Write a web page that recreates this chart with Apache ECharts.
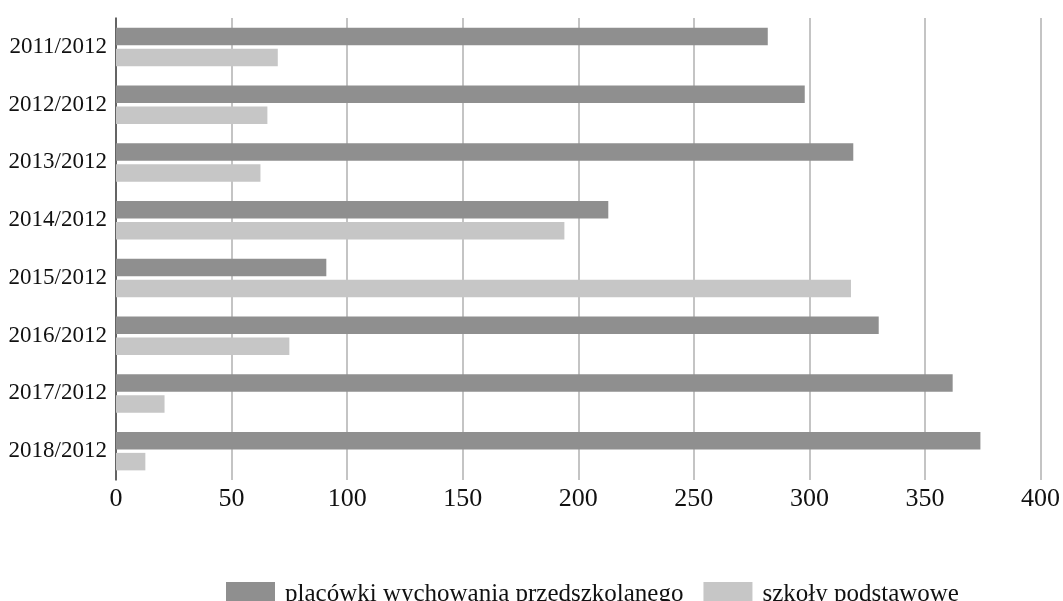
<!DOCTYPE html>
<html>
<head>
<meta charset="utf-8">
<script src="https://cdn.jsdelivr.net/npm/echarts@6/dist/echarts.min.js"></script>
<style>
html,body{margin:0;padding:0;background:#fff;}
#chart{width:1063px;height:601px;}
</style>
</head>
<body>
<div id="chart"></div>
<script>
const categories = ['2011/2012','2012/2012','2013/2012','2014/2012','2015/2012','2016/2012','2017/2012','2018/2012'];
const seriesNames = ['placówki wychowania przedszkolanego','szkoły podstawowe'];
const przedszkola = [282, 298, 319, 213, 91, 330, 362, 374];
const szkoly = [70, 65.5, 62.5, 194, 318, 75, 21, 12.7];
const xTicks = [0, 50, 100, 150, 200, 250, 300, 350, 400];

const chart = echarts.init(document.getElementById('chart'), null, {renderer:'canvas'});
const font = '"Liberation Serif", "Times New Roman", serif';
chart.setOption({
  animation: false,
  backgroundColor: '#ffffff',
  grid: {left: 116, top: 18, width: 925, height: 462, containLabel: false},
  legend: {
    left: 221, top: 577,
    itemWidth: 49, itemHeight: 25, itemGap: 20,
    icon: 'rect',
    textStyle: {fontFamily: font, fontSize: 25, color: '#111', padding: [0,0,0,5]},
    data: seriesNames
  },
  xAxis: {
    type: 'value', min: xTicks[0], max: xTicks[xTicks.length-1], interval: 50,
    axisLine: {show: false}, axisTick: {show: false},
    splitLine: {show: true, lineStyle: {color: '#b0b0b0', width: 1.5}},
    axisLabel: {fontFamily: font, fontSize: 26, color: '#111', margin: 6}
  },
  yAxis: {
    type: 'category', data: categories, inverse: true,
    axisLine: {show: true, lineStyle: {color: '#444', width: 1.5}},
    axisTick: {show: false},
    axisLabel: {fontFamily: font, fontSize: 23, color: '#111', margin: 9}
  },
  series: [
    {name: seriesNames[0], type: 'bar', data: przedszkola, barWidth: 17.5, barGap: '20%',
     itemStyle: {color: '#8f8f8f'}},
    {name: seriesNames[1], type: 'bar', data: szkoly, barWidth: 17.5, barGap: '20%',
     itemStyle: {color: '#c6c6c6'}}
  ]
});
</script>
</body>
</html>
